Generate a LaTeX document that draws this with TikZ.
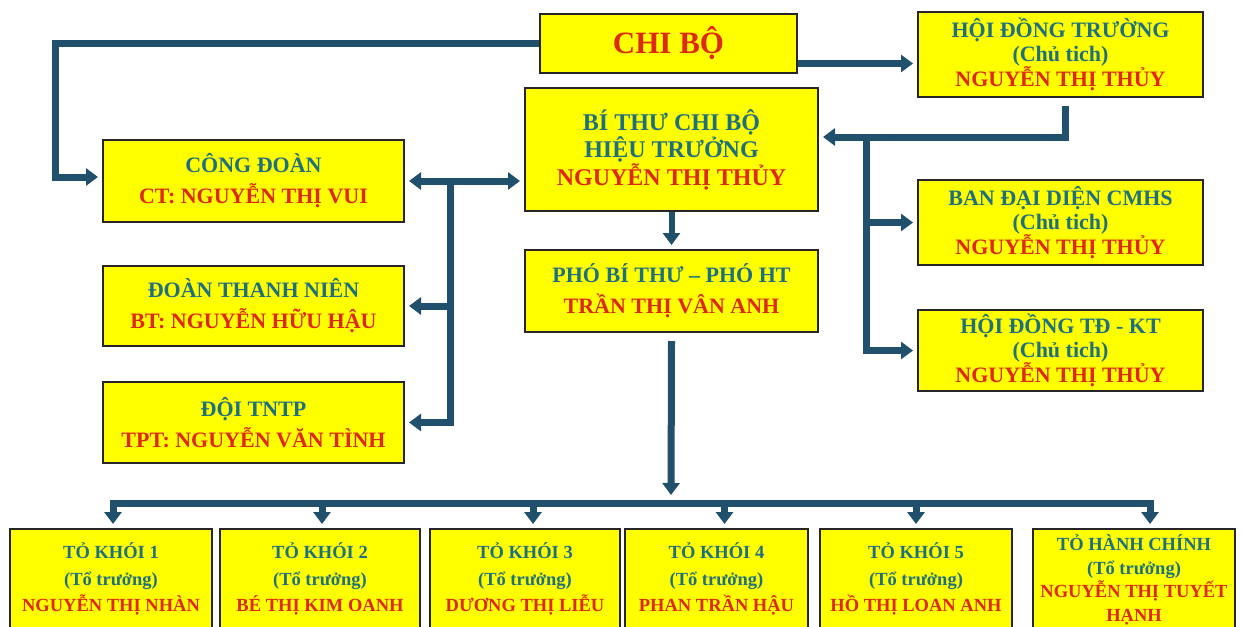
\documentclass[tikz,border=0pt]{standalone}
\usepackage{fontspec}
\setmainfont{Liberation Serif}
\usetikzlibrary{arrows.meta,positioning}

\definecolor{unitfill}{RGB}{255,255,0}
\definecolor{headcol}{RGB}{30,112,126}
\definecolor{namecol}{RGB}{222,40,16}
\definecolor{linkcol}{RGB}{32,80,108}
\newcommand{\headtxt}[1]{\textcolor{headcol}{#1}}
\newcommand{\nametxt}[1]{\textcolor{namecol}{#1}}

\tikzset{
	unit/.style={draw=black!85, line width=2pt, fill=unitfill, align=center, inner sep=0pt},
	hugetxt/.style={font=\bfseries\fontsize{31}{36}\selectfont},
	midtxt/.style={font=\bfseries\fontsize{22}{31}\selectfont},
	chieftxt/.style={font=\bfseries\fontsize{24}{27.5}\selectfont},
	sidetxt/.style={font=\bfseries\fontsize{22}{24}\selectfont},
	smalltxt/.style={font=\bfseries\fontsize{18.5}{26.5}\selectfont},
	tighttxt/.style={font=\bfseries\fontsize{18.5}{23.5}\selectfont},
	link/.style={draw=linkcol, line width=7pt},
	tip/.style={-{Triangle[width=17pt,length=12pt]}, shorten >=4pt},
	tips/.style={{Triangle[width=17pt,length=12pt]}-{Triangle[width=17pt,length=12pt]}, shorten >=4pt, shorten <=4pt},
}

\begin{document}
\begin{tikzpicture}[x=1pt,y=-1pt]
	\useasboundingbox (0,0) rectangle (1241,626);
	\clip (0,0) rectangle (1241,626);
	\fill[white] (0,0) rectangle (1241,626);

	\node[unit, hugetxt, minimum width=257pt, minimum height=59pt] (chibo) at (668.5,43.5) {\nametxt{CHI BỘ}};
	\node[unit, sidetxt, minimum width=285pt, minimum height=85pt] (hdtruong) at (1060.5,54.5)
		{\headtxt{HỘI ĐỒNG TRƯỜNG}\\ \headtxt{(Chủ tich)}\\ \nametxt{NGUYỄN THỊ THỦY}};
	\node[unit, chieftxt, minimum width=293pt, minimum height=123pt] (bithu) at (671.5,149.5)
		{\headtxt{BÍ THƯ CHI BỘ}\\ \headtxt{HIỆU TRƯỞNG}\\ \nametxt{NGUYỄN THỊ THỦY}};
	\node[unit, midtxt, minimum width=293pt, minimum height=82pt] (phobt) at (671.5,291)
		{\headtxt{PHÓ BÍ THƯ – PHÓ HT}\\ \nametxt{TRẦN THỊ VÂN ANH}};
	\node[unit, midtxt, minimum width=301pt, minimum height=82pt] (congdoan) at (253.5,181)
		{\headtxt{CÔNG ĐOÀN}\\ \nametxt{CT: NGUYỄN THỊ VUI}};
	\node[unit, midtxt, minimum width=301pt, minimum height=80pt] (doantn) at (253.5,306)
		{\headtxt{ĐOÀN THANH NIÊN}\\ \nametxt{BT: NGUYỄN HỮU HẬU}};
	\node[unit, midtxt, minimum width=301pt, minimum height=81pt] (doitntp) at (253.5,422.5)
		{\headtxt{ĐỘI TNTP}\\ \nametxt{TPT: NGUYỄN VĂN TÌNH}};
	\node[unit, sidetxt, minimum width=285pt, minimum height=85pt] (bandd) at (1060.5,222.5)
		{\headtxt{BAN ĐẠI DIỆN CMHS}\\ \headtxt{(Chủ tich)}\\ \nametxt{NGUYỄN THỊ THỦY}};
	\node[unit, sidetxt, minimum width=285pt, minimum height=81pt] (hdtdkt) at (1060.5,350.5)
		{\headtxt{HỘI ĐỒNG TĐ - KT}\\ \headtxt{(Chủ tich)}\\ \nametxt{NGUYỄN THỊ THỦY}};

	\foreach \id/\cx/\w/\head/\who in {tk1/111/202/TỎ KHÓI 1/NGUYỄN THỊ NHÀN,
		tk2/320/200/TỎ KHÓI 2/BÉ THỊ KIM OANH, tk3/525/190/TỎ KHÓI 3/DƯƠNG THỊ LIỄU,
		tk4/716.5/183/TỎ KHÓI 4/PHAN TRẦN HẬU, tk5/916/192/TỎ KHÓI 5/HỒ THỊ LOAN ANH}
		\node[unit, smalltxt, minimum width=\w pt, minimum height=100pt] (\id) at (\cx,579)
			{\headtxt{\head}\\ \headtxt{(Tổ trưởng)}\\ \nametxt{\who}};
	\node[unit, tighttxt, minimum width=202pt, minimum height=102pt] (tk6) at (1134,580)
		{\headtxt{TỎ HÀNH CHÍNH}\\ \headtxt{(Tổ trưởng)}\\ \nametxt{NGUYỄN THỊ TUYẾT}\\ \nametxt{HẠNH}};

	% connectors
	\coordinate (leftrail) at (55,100);
	\draw[link, tip] (chibo.west) -| (leftrail) |- ([yshift=4pt]congdoan.west);
	\draw[link, tip] ([yshift=-20pt]chibo.east) -- ([yshift=-20pt]chibo.east -| hdtruong.west);
	\draw[link, tip] ([xshift=4.5pt,yshift=-8pt]hdtruong.south) |- ([yshift=12.5pt]bithu.east);
	\coordinate (rjoint) at (866,137);
	\draw[link, tip] (rjoint) |- (hdtdkt.west);
	\draw[link, tip] (rjoint |- bandd.west) -- (bandd.west);
	\draw[link, tips] (congdoan.east) -- (congdoan.east -| bithu.west);
	\coordinate (ljoint) at (450,181);
	\draw[link, tip] (ljoint) |- (doitntp.east);
	\draw[link, tip] (ljoint |- doantn.east) -- (doantn.east);
	\draw[link, tip, line width=6pt] (bithu.south) -- (phobt.north);
	\coordinate (bus) at (671,503);
	\draw[link, tip, shorten >=8pt] ([yshift=-8pt]phobt.south) -- (bus);
	\draw[link, line cap=rect] ([xshift=2pt]tk1.north |- bus) -- ([xshift=16pt]tk6.north |- bus);
	\foreach \id/\dx in {tk1/2,tk2/2,tk3/8,tk4/8,tk5/0,tk6/16}
		\draw[link, tip] ([xshift=\dx pt]\id.north |- bus) -- ([xshift=\dx pt]\id.north);
\end{tikzpicture}
\end{document}
